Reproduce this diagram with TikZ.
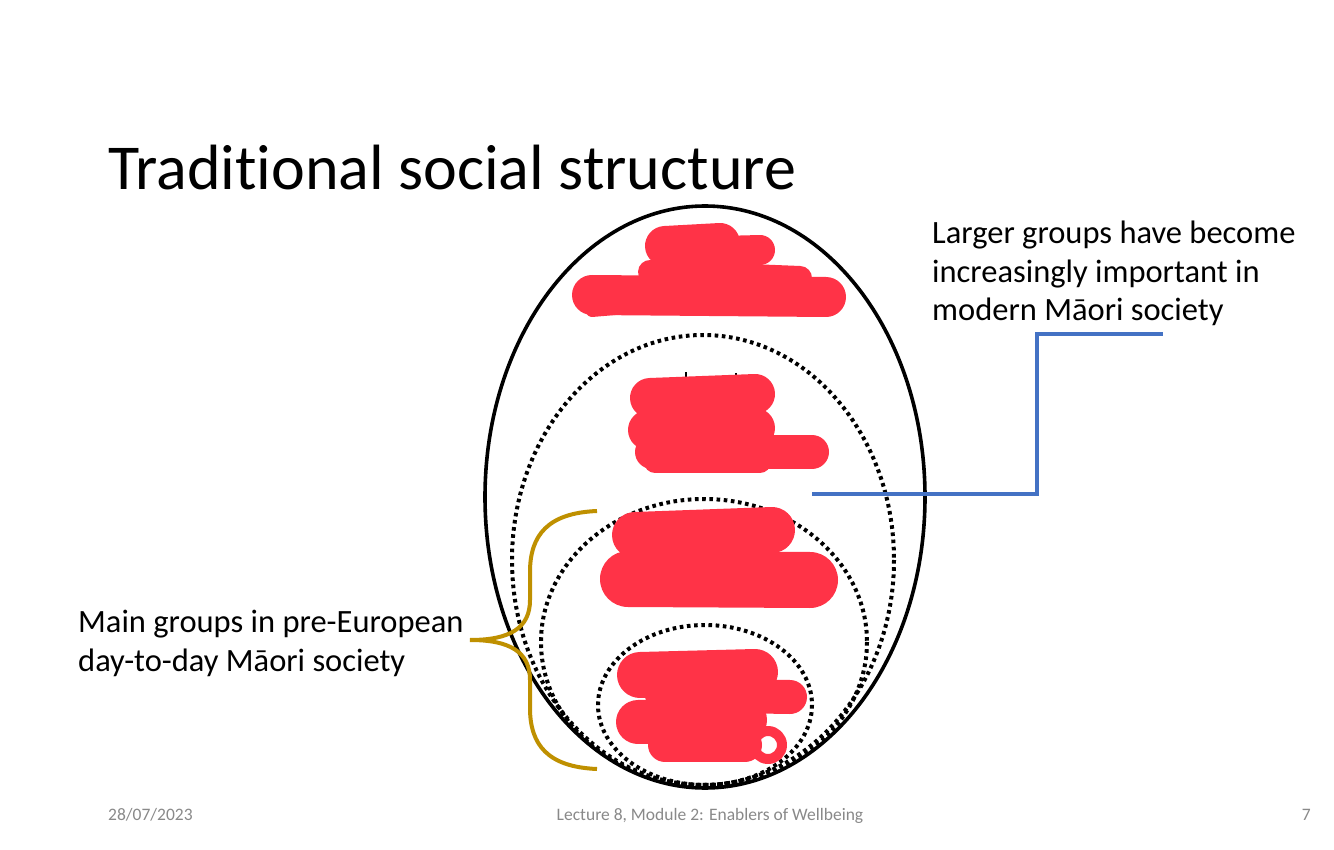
\documentclass[tikz,border=0pt]{standalone}
\usepackage{fontspec}
\setmainfont{Carlito}[Ligatures=NoCommon]
\begin{document}
\begin{tikzpicture}[x=1pt,y=-1pt,
  outer/.style={draw=black,line width=3.6pt},
  dotring/.style={draw=black,line width=4pt,dash pattern=on 3.6pt off 3.6pt},
  scrib/.style={draw=scribred,line cap=round,line join=round},
  tick/.style={draw=black,line width=1.2pt},
  bracec/.style={draw=bracegold,line width=4pt},
  bluec/.style={draw=blueline,line width=4.5pt},
  lbl/.style={font=\fontsize{32.5}{38.5}\selectfont,align=left,anchor=north west,inner sep=0pt},
  foot/.style={font=\fontsize{17.5}{20}\selectfont,text=footgray,inner sep=0pt}]
\definecolor{scribred}{RGB}{255,51,71}
\definecolor{bracegold}{RGB}{191,144,0}
\definecolor{blueline}{RGB}{68,114,196}
\definecolor{footgray}{RGB}{137,137,137}
\useasboundingbox (0,0) rectangle (1334,850);
\fill[white] (0,0) rectangle (1334,850);
% title
\node[anchor=base west,inner sep=0pt,font=\fontsize{64}{70}\selectfont] (title) at (108,190) {Traditional social structure};
% ellipses
\draw[outer] (705,497) ellipse [x radius=220, y radius=291];
\draw[dotring] (703,560) ellipse [x radius=191, y radius=225];
\draw[dotring] (704,642) ellipse [x radius=163, y radius=143];
\draw[dotring] (705,705) ellipse [x radius=107, y radius=80];
% small black ticks
\draw[tick] (686,372) -- (686,384);
\draw[tick] (736,373) -- (736,384);
\draw[tick] (681,515) -- (681,526);
\draw[tick] (713,516) -- (713,526);
\draw[tick] (757,700) -- (764,716);
% red scribbles
\draw[scrib,line width=40pt] (665,246) -- (720,243);
\draw[scrib,line width=30pt] (682,252) -- (760,250);
\draw[scrib,line width=24pt] (650,272) -- (800,278);
\draw[scrib,line width=40pt] (592,295) -- (826,297);
\draw[scrib,line width=12pt] (592,311) -- (650,306);
\draw[scrib,line width=40pt] (650,398) -- (755,394);
\draw[scrib,line width=40pt] (648,430) -- (755,428);
\draw[scrib,line width=34pt] (652,452) -- (812,452);
\draw[scrib,line width=22pt] (655,462) -- (760,462);
\draw[scrib,line width=46pt] (635,535) -- (772,530);
\draw[scrib,line width=56pt] (628,579) -- (810,580);
\draw[scrib,line width=46pt] (640,675) -- (755,672);
\draw[scrib,line width=34pt] (662,695) -- (790,697);
\draw[scrib,line width=44pt] (638,722) -- (745,720);
\draw[scrib,line width=34pt] (665,745) -- (745,745);
\draw[scrib,line width=10pt] (768,745) circle [radius=14];
% blue connector
\coordinate (b1) at (812,494);
\coordinate (b2) at (1037,494);
\coordinate (b3) at (1037,334);
\coordinate (b4) at (1163,334);
\draw[bluec] (b1) -- (b2) -- (b3) -- (b4);
% brace
\coordinate (bt) at (597,511);
\coordinate (btip) at (470,640);
\coordinate (bb) at (597,769);
\draw[bracec] (bt) .. controls (548,513) and (530,535) .. (530,572) -- (530,600)
  .. controls (530,628) and (510,640) .. (btip)
  .. controls (510,640) and (530,652) .. (530,680) -- (530,708)
  .. controls (530,745) and (548,767) .. (bb);
% labels
\node[lbl] (rtext) at (932,221) {Larger groups have become\\increasingly important in\\modern Māori society};
\node[lbl] (ltext) at (78,610) {Main groups in pre-European\\day-to-day Māori society};
% footer
\node[foot,anchor=base west] (date) at (108,820) {28/07/2023};
\node[foot,anchor=base] (lect) at (710,820) {Lecture 8, Module 2: Enablers of Wellbeing};
\node[foot,anchor=base east] (pg) at (1311,820) {7};
\end{tikzpicture}
\end{document}
